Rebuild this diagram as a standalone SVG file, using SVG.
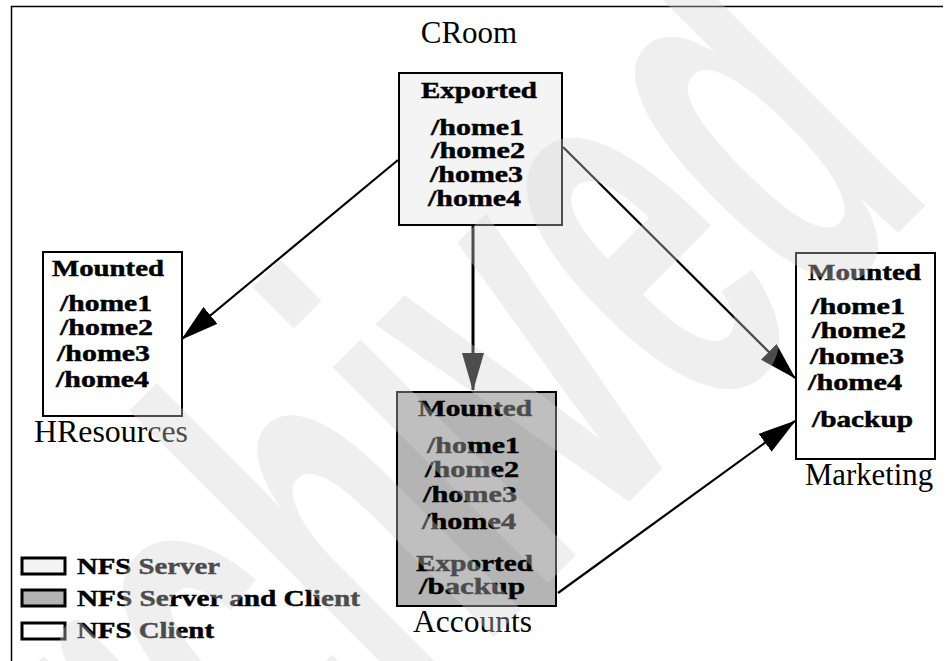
<svg xmlns="http://www.w3.org/2000/svg" width="947" height="661" viewBox="0 0 947 661">
  <style>
    .box { stroke: #000; stroke-width: 2; }
    .srv { fill: #f4f4f4; }
    .both { fill: #b4b4b4; }
    .cli { fill: #ffffff; }
    .lbl { font-family: "Liberation Serif", "Times New Roman", serif; font-weight: bold; font-size: 22.5px; fill: #000; stroke: #000; stroke-width: 0.45; }
    .name { font-family: "Liberation Serif", "Times New Roman", serif; font-size: 31px; fill: #000; }
    .link { stroke: #000; stroke-width: 2.2; fill: none; marker-end: url(#head); }
    .swatch { stroke: #000; stroke-width: 3; }
    .mark { font-family: "Liberation Sans", Arial, sans-serif; font-weight: bold; font-size: 100px; fill: rgb(212,212,212); fill-opacity: 0.36; }
  </style>
  <defs>
    <marker id="head" markerUnits="userSpaceOnUse" markerWidth="38" markerHeight="22" viewBox="0 0 38 22" refX="37" refY="11" orient="auto">
      <path d="M0,0 L38,11 L0,22 z" fill="#000"/>
    </marker>
  </defs>

  <rect width="947" height="661" fill="#fff"/>

  <!-- page frame -->
  <g id="frame" stroke="#000" stroke-width="1.5" fill="none">
    <path d="M11.5,661 V6.5 H943"/>
  </g>

  <!-- connectors -->
  <g id="connectors">
    <line class="link" x1="398" y1="160" x2="182" y2="339"/>
    <line class="link" x1="473" y1="225" x2="473" y2="390" style="stroke-width:3"/>
    <line class="link" x1="563" y1="147" x2="795" y2="378"/>
    <line class="link" x1="558" y1="593" x2="795" y2="421"/>
  </g>

  <!-- CRoom: NFS server -->
  <g id="croom">
    <text class="name" x="469" y="43" text-anchor="middle">CRoom</text>
    <rect class="box srv" x="399" y="73" width="163" height="152"/>
    <text class="lbl" x="421" y="98" textLength="116" lengthAdjust="spacingAndGlyphs">Exported</text>
    <text class="lbl" x="431" y="135" textLength="93" lengthAdjust="spacingAndGlyphs">/home1</text>
    <text class="lbl" x="431" y="158" textLength="94" lengthAdjust="spacingAndGlyphs">/home2</text>
    <text class="lbl" x="430" y="182" textLength="93" lengthAdjust="spacingAndGlyphs">/home3</text>
    <text class="lbl" x="428" y="206" textLength="93" lengthAdjust="spacingAndGlyphs">/home4</text>
  </g>

  <!-- HResources: NFS client -->
  <g id="hresources">
    <rect class="box cli" x="43" y="252" width="139" height="164"/>
    <text class="lbl" x="52" y="276" textLength="112" lengthAdjust="spacingAndGlyphs">Mounted</text>
    <text class="lbl" x="60" y="311" textLength="92" lengthAdjust="spacingAndGlyphs">/home1</text>
    <text class="lbl" x="60" y="335" textLength="93" lengthAdjust="spacingAndGlyphs">/home2</text>
    <text class="lbl" x="57" y="361" textLength="93" lengthAdjust="spacingAndGlyphs">/home3</text>
    <text class="lbl" x="56" y="387" textLength="93" lengthAdjust="spacingAndGlyphs">/home4</text>
    <text class="name" x="34" y="442" textLength="154" lengthAdjust="spacingAndGlyphs">HResources</text>
  </g>

  <!-- Accounts: NFS server and client -->
  <g id="accounts">
    <rect class="box both" x="397" y="392" width="159" height="214"/>
    <text class="lbl" x="418" y="416" textLength="114" lengthAdjust="spacingAndGlyphs">Mounted</text>
    <text class="lbl" x="427" y="453" textLength="93" lengthAdjust="spacingAndGlyphs">/home1</text>
    <text class="lbl" x="425" y="477" textLength="94" lengthAdjust="spacingAndGlyphs">/home2</text>
    <text class="lbl" x="423" y="502" textLength="94" lengthAdjust="spacingAndGlyphs">/home3</text>
    <text class="lbl" x="422" y="529" textLength="94" lengthAdjust="spacingAndGlyphs">/home4</text>
    <text class="lbl" x="416" y="571" textLength="117" lengthAdjust="spacingAndGlyphs">Exported</text>
    <text class="lbl" x="419" y="594" textLength="106" lengthAdjust="spacingAndGlyphs">/backup</text>
    <text class="name" x="413" y="632" textLength="119" lengthAdjust="spacingAndGlyphs">Accounts</text>
  </g>

  <!-- Marketing: NFS client -->
  <g id="marketing">
    <rect class="box cli" x="796" y="253" width="139" height="206"/>
    <text class="lbl" x="808" y="280" textLength="113" lengthAdjust="spacingAndGlyphs">Mounted</text>
    <text class="lbl" x="811" y="314" textLength="94" lengthAdjust="spacingAndGlyphs">/home1</text>
    <text class="lbl" x="812" y="338" textLength="94" lengthAdjust="spacingAndGlyphs">/home2</text>
    <text class="lbl" x="810" y="364" textLength="94" lengthAdjust="spacingAndGlyphs">/home3</text>
    <text class="lbl" x="808" y="390" textLength="94" lengthAdjust="spacingAndGlyphs">/home4</text>
    <text class="lbl" x="812" y="427" textLength="101" lengthAdjust="spacingAndGlyphs">/backup</text>
    <text class="name" x="805" y="485" textLength="128" lengthAdjust="spacingAndGlyphs">Marketing</text>
  </g>

  <!-- legend -->
  <g id="legend">
    <rect class="swatch srv" x="22" y="558" width="43" height="16"/>
    <text class="lbl" x="77" y="574" textLength="143" lengthAdjust="spacingAndGlyphs">NFS Server</text>
    <rect class="swatch both" x="22" y="590" width="43" height="16"/>
    <text class="lbl" x="77" y="606" textLength="283" lengthAdjust="spacingAndGlyphs">NFS Server and Client</text>
    <rect class="swatch cli" x="22" y="623" width="43" height="16"/>
    <text class="lbl" x="77" y="638" textLength="137" lengthAdjust="spacingAndGlyphs">NFS Client</text>
  </g>

  <!-- diagonal watermark laid over the page -->
  <g id="watermark">
    <text class="mark" transform="translate(73.25,1057.75) rotate(-45) scale(2.86,5.77)">Archived</text>
  </g>
</svg>
